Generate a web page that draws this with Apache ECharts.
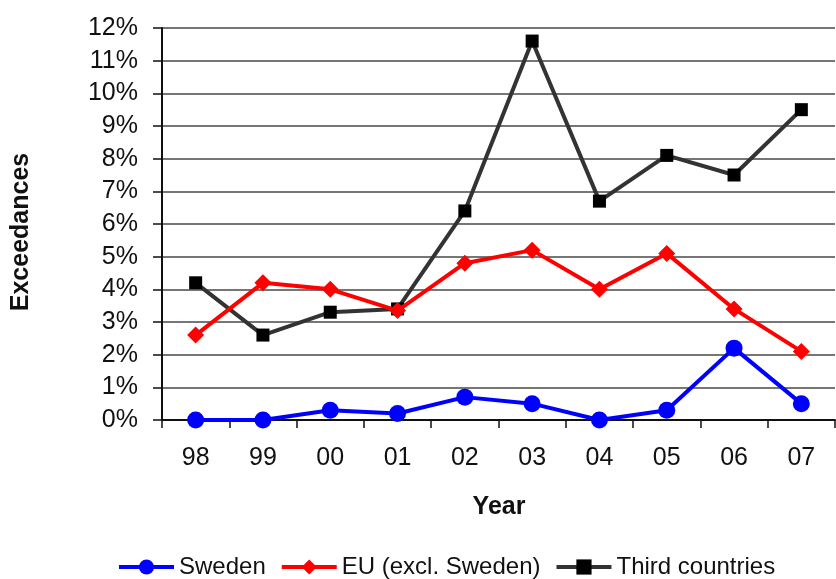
<!DOCTYPE html>
<html>
<head>
<meta charset="utf-8">
<script src="https://cdn.jsdelivr.net/npm/echarts@6/dist/echarts.min.js"></script>
<style>
  html, body { margin: 0; padding: 0; background: #fff; }
  #chart { width: 836px; height: 579px; }
</style>
</head>
<body>
<div id="chart"></div>
<script>
// Year labels (two-digit)
const years = ['98', '99', '00', '01', '02', '03', '04', '05', '06', '07'];

// Share of exceedances per origin, in percent
const sweden = [0, 0, 0.3, 0.2, 0.7, 0.5, 0, 0.3, 2.2, 0.5];
const euExclSweden = [2.6, 4.2, 4.0, 3.35, 4.8, 5.2, 4.0, 5.1, 3.4, 2.1];
const thirdCountries = [4.2, 2.6, 3.3, 3.4, 6.4, 11.6, 6.7, 8.1, 7.5, 9.5];

const FONT = '"Liberation Sans", Arial, sans-serif';

const chart = echarts.init(document.getElementById('chart'), null, { renderer: 'canvas' });

chart.setOption({
  animation: false,
  backgroundColor: '#ffffff',
  grid: { left: 162, right: 1, top: 28, bottom: 159, containLabel: false },
  legend: {
    left: 117,
    top: 555,
    padding: 0,
    itemWidth: 55,
    itemHeight: 19,
    itemGap: 14,
    textStyle: { fontFamily: FONT, fontSize: 24, color: '#111' },
    data: [
      { name: 'Sweden', itemStyle: { color: '#0000ff' }, lineStyle: { width: 4, color: '#0000ff' } },
      { name: 'EU (excl. Sweden)', itemStyle: { color: '#ff0000' }, lineStyle: { width: 4, color: '#ff0000' } },
      { name: 'Third countries', itemStyle: { color: '#000000' }, lineStyle: { width: 4, color: '#333333' } }
    ]
  },
  xAxis: {
    type: 'category',
    data: years,
    boundaryGap: true,
    axisLine: { lineStyle: { color: '#111', width: 2 } },
    axisTick: { show: true, length: 8, lineStyle: { color: '#111', width: 1.5 } },
    axisLabel: { fontFamily: FONT, fontSize: 25, color: '#111', margin: 26 },
    splitLine: { show: false }
  },
  yAxis: {
    type: 'value',
    min: 0,
    max: 12,
    interval: 1,
    axisLine: { show: true, lineStyle: { color: '#111', width: 2 } },
    axisTick: { show: true, length: 9, lineStyle: { color: '#111', width: 1.5 } },
    axisLabel: {
      fontFamily: FONT, fontSize: 25, color: '#111', margin: 24,
      formatter: v => v + '%'
    },
    splitLine: { show: true, lineStyle: { color: '#484848', width: 1.6 } }
  },
  graphic: [
    {
      type: 'text',
      x: 499, y: 507,
      style: {
        text: 'Year', x: 0, y: 0, align: 'center', verticalAlign: 'middle',
        font: 'bold 25px ' + FONT, fill: '#111'
      }
    },
    {
      type: 'text',
      x: 21, y: 232, rotation: Math.PI / 2,
      style: {
        text: 'Exceedances', x: 0, y: 0, align: 'center', verticalAlign: 'middle',
        font: 'bold 25px ' + FONT, fill: '#111'
      }
    }
  ],
  series: [
    {
      name: 'Sweden', type: 'line', data: sweden,
      symbol: 'circle', symbolSize: 17,
      lineStyle: { color: '#0000ff', width: 4 },
      itemStyle: { color: '#0000ff' },
      z: 4
    },
    {
      name: 'EU (excl. Sweden)', type: 'line', data: euExclSweden,
      symbol: 'diamond', symbolSize: 17,
      lineStyle: { color: '#ff0000', width: 4 },
      itemStyle: { color: '#ff0000' },
      z: 3
    },
    {
      name: 'Third countries', type: 'line', data: thirdCountries,
      symbol: 'rect', symbolSize: 13,
      lineStyle: { color: '#333333', width: 4 },
      itemStyle: { color: '#000000' },
      z: 2
    }
  ]
});
</script>
</body>
</html>
